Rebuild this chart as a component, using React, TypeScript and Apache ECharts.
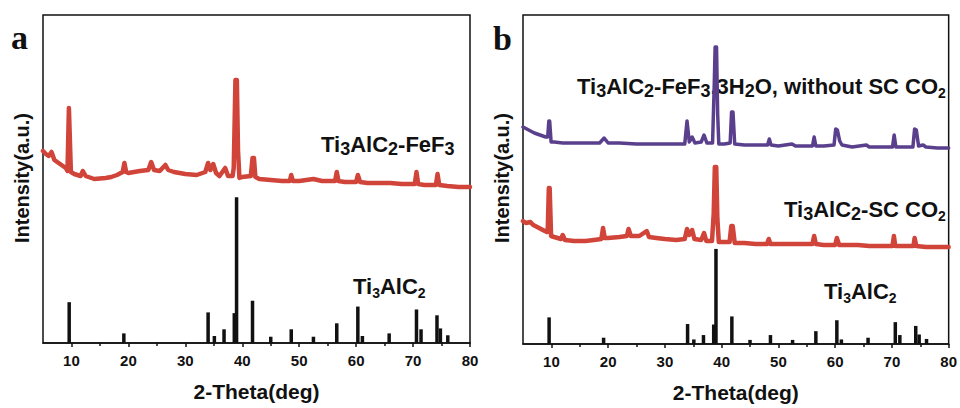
import React, { useEffect, useRef } from "react";
import * as echarts from "echarts";

// ---------- axis ticks ----------
const majorTicks = [10, 20, 30, 40, 50, 60, 70, 80];
const minorTicks = [15, 25, 35, 45, 55, 65, 75];

// ---------- Ti3AlC2 reference pattern (2θ, relative intensity %) ----------
const refTheta = [9.6, 19.2, 34.0, 35.1, 36.8, 38.6, 39.0, 41.8, 45.0, 48.6, 52.5, 56.6, 60.3, 61.1, 65.8, 70.6, 71.4, 74.2, 74.8, 76.1];
const refIntensity = [28, 6.6, 21, 4.8, 9.4, 20.5, 100, 29, 4.3, 9.4, 4.3, 13.5, 25, 4.8, 6.6, 23, 9.4, 19, 10, 5.3];

// ---------- panel a : Ti3AlC2-FeF3 (2θ, counts a.u.) ----------
const sampleFeF3: [number, number][] = [
  [5.0, 192], [5.5, 189], [6.0, 187], [6.5, 191], [7.0, 183], [8.0, 179], [9.0, 175], [9.3, 172],
  [9.55, 235], [9.65, 235], [9.9, 171], [10.5, 169], [11.6, 167], [12.0, 172], [12.5, 167], [14.0, 164],
  [16.0, 165], [17.0, 166], [18.0, 168], [19.0, 171], [19.3, 180], [19.6, 171], [20.0, 170], [22.0, 172],
  [23.5, 173], [24.0, 181], [24.5, 173], [25.5, 172], [26.5, 178], [27.0, 173], [28.0, 171], [30.0, 169],
  [32.0, 168], [33.5, 171], [34.0, 180], [34.4, 173], [34.9, 179], [35.4, 170], [36.0, 167], [37.0, 175],
  [37.5, 167], [38.3, 167], [38.5, 175], [38.7, 233], [38.8, 263], [39.05, 263], [39.25, 193], [39.5, 165],
  [40.0, 166], [41.5, 167], [41.8, 185], [42.05, 185], [42.3, 166], [43.0, 164], [45.0, 163], [47.0, 162],
  [48.35, 162], [48.6, 168], [48.9, 162], [50.0, 162], [52.5, 164], [54.0, 162], [56.3, 162], [56.6, 171],
  [56.9, 162], [58.0, 161], [60.0, 161], [60.3, 168], [60.7, 161], [62.0, 160], [64.0, 160], [66.0, 160],
  [68.0, 159], [70.3, 159], [70.6, 171], [70.9, 159], [72.0, 158], [74.0, 158], [74.3, 169], [74.6, 158],
  [76.0, 157], [78.0, 156], [80.0, 156],
];

// ---------- panel b : Ti3AlC2-FeF3.3H2O without SC CO2 ----------
const sampleHydrate: [number, number][] = [
  [5.0, 217], [6.0, 214], [7.0, 211], [8.0, 209], [9.0, 207], [9.35, 207], [9.55, 223], [9.7, 223],
  [9.95, 202], [10.5, 202], [12.0, 201], [14.0, 201], [16.0, 201], [18.5, 201], [19.3, 206], [20.0, 201],
  [22.0, 201], [25.0, 200], [28.0, 200], [30.0, 200], [32.0, 200], [33.5, 200], [33.9, 223], [34.3, 202],
  [34.8, 207], [35.3, 201], [36.4, 202], [36.9, 209], [37.4, 201], [38.4, 201], [38.7, 260], [38.85, 297],
  [39.1, 297], [39.3, 230], [39.5, 200], [40.5, 200], [41.5, 201], [41.75, 232], [42.0, 232], [42.3, 200],
  [44.0, 199], [46.0, 199], [48.1, 199], [48.4, 205], [48.7, 199], [50.0, 198], [52.4, 200], [53.0, 198],
  [54.0, 198], [56.0, 198], [56.3, 207], [56.6, 198], [58.0, 198], [59.8, 199], [60.1, 215], [60.4, 214],
  [60.8, 203], [61.2, 199], [63.0, 197], [65.5, 199], [66.0, 197], [68.0, 197], [70.1, 197], [70.4, 209],
  [70.7, 197], [72.0, 197], [73.7, 197], [74.0, 215], [74.3, 214], [74.7, 198], [75.5, 199], [76.0, 197],
  [78.0, 196], [80.0, 196],
];

// ---------- panel b : Ti3AlC2-SC CO2 ----------
const sampleSC: [number, number][] = [
  [5.0, 123], [5.5, 121], [6.3, 122], [6.8, 119], [7.5, 117], [8.5, 114], [9.2, 112], [9.35, 112],
  [9.55, 156], [9.7, 156], [9.95, 108], [10.5, 107], [11.7, 105], [12.0, 109], [12.4, 104], [14.0, 103],
  [16.0, 103], [17.5, 104], [18.8, 105], [19.1, 116], [19.4, 106], [20.0, 106], [22.0, 107], [23.3, 108],
  [23.6, 115], [24.0, 108], [25.5, 108], [26.8, 113], [27.2, 107], [28.5, 106], [30.0, 105], [32.0, 104],
  [33.5, 105], [33.9, 115], [34.3, 109], [34.8, 114], [35.2, 105], [36.4, 104], [36.9, 111], [37.3, 103],
  [38.3, 103], [38.6, 130], [38.8, 177], [39.05, 177], [39.25, 125], [39.5, 102], [40.5, 102], [41.4, 102],
  [41.7, 118], [41.95, 118], [42.3, 101], [44.0, 101], [46.0, 100], [48.0, 100], [48.3, 105], [48.6, 100],
  [50.0, 100], [52.0, 100], [54.0, 100], [56.0, 100], [56.3, 108], [56.6, 100], [58.0, 99], [60.0, 99],
  [60.3, 106], [60.7, 99], [62.0, 99], [64.0, 99], [66.0, 98], [68.0, 98], [70.1, 98], [70.35, 108],
  [70.6, 98], [72.0, 98], [73.8, 98], [74.0, 106], [74.3, 98], [76.0, 97], [78.0, 97], [80.0, 97],
];

// ---------- texts ----------
const panelLetters = ["a", "b"];
const yTitle = "Intensity(a.u.)";
const xTitle = "2-Theta(deg)";
const labelFeF3 = "{n|Ti}{b|3}{n|AlC}{b|2}{n|-FeF}{b|3}";
const labelRefA = "{n|Ti}{s|3}{n|AlC}{s|2}";
const labelHydrate = "{n|Ti}{b|3}{n|AlC}{b|2}{n|-FeF}{b|3}{n|.3H}{b|2}{n|O, without SC CO}{s|2}";
const labelSC = "{n|Ti}{b|3}{n|AlC}{b|2}{n|-SC CO}{s|2}";
const labelRefB = "{n|Ti}{s|3}{n|AlC}{s|2}";

const RED = "#D0443A";
const PURPLE = "#5A3F8C";
const INK = "#111111";
const SANS = "Liberation Sans, Arial, sans-serif";

const rich = {
  n: { fontSize: 22, fontWeight: "bold", fontFamily: SANS, fill: INK, color: INK, lineHeight: 28 },
  b: { fontSize: 18, fontWeight: "bold", fontFamily: SANS, fill: INK, color: INK, lineHeight: 18, verticalAlign: "bottom" },
  s: { fontSize: 14, fontWeight: "bold", fontFamily: SANS, fill: INK, color: INK, lineHeight: 14, verticalAlign: "bottom" },
};

function xAxes(gridIndex: number) {
  const common = { type: "value", gridIndex, min: 5, max: 80, position: "bottom", splitLine: { show: false } };
  return [
    {
      ...common,
      axisLine: { show: true, onZero: false, lineStyle: { color: INK, width: 1.5 } },
      axisTick: { show: true, inside: false, length: 4, customValues: majorTicks, lineStyle: { color: INK, width: 1.5 } },
      axisLabel: { customValues: majorTicks, margin: 10, fontSize: 15, fontWeight: "bold", color: INK, fontFamily: SANS },
      name: xTitle,
      nameLocation: "middle",
      nameGap: 38,
      nameTextStyle: { fontSize: 21, fontWeight: "bold", color: INK, fontFamily: SANS },
    },
    {
      ...common,
      axisLine: { show: false, onZero: false },
      axisTick: { show: true, inside: false, length: 3, customValues: minorTicks, lineStyle: { color: INK, width: 1.5 } },
      axisLabel: { show: false },
    },
  ];
}

export default function App() {
  const ref = useRef<HTMLDivElement>(null);
  useEffect(() => {
    if (!ref.current) return;
    const chart = echarts.init(ref.current, null, { renderer: "svg" });
    const refData = refTheta.map((t, i) => [t, refIntensity[i]]);
    chart.setOption({
      animation: false,
      backgroundColor: "#ffffff",
      grid: [
        { left: 43, top: 15, width: 427, height: 328, show: true, borderColor: INK, borderWidth: 1.5, containLabel: false },
        { left: 523, top: 15, width: 427, height: 329, show: true, borderColor: INK, borderWidth: 1.5, containLabel: false },
      ],
      xAxis: [...xAxes(0), ...xAxes(1)],
      yAxis: [
        { type: "value", gridIndex: 0, min: 0, max: 328, show: false },
        { type: "value", gridIndex: 0, min: 0, max: 225, show: false },
        { type: "value", gridIndex: 1, min: 0, max: 329, show: false },
        { type: "value", gridIndex: 1, min: 0, max: 346, show: false },
      ],
      series: [
        {
          type: "line", xAxisIndex: 0, yAxisIndex: 0, data: sampleFeF3, showSymbol: false,
          lineStyle: { color: RED, width: 4.5, join: "round", cap: "round" }, z: 3,
        },
        {
          type: "bar", xAxisIndex: 0, yAxisIndex: 1, data: refData, barWidth: 3.5,
          itemStyle: { color: INK },
        },
        {
          type: "line", xAxisIndex: 2, yAxisIndex: 2, data: sampleHydrate, showSymbol: false,
          lineStyle: { color: PURPLE, width: 3.5, join: "round", cap: "round" }, z: 3,
        },
        {
          type: "line", xAxisIndex: 2, yAxisIndex: 2, data: sampleSC, showSymbol: false,
          lineStyle: { color: RED, width: 4.5, join: "round", cap: "round" }, z: 3,
        },
        {
          type: "bar", xAxisIndex: 2, yAxisIndex: 3, data: refData, barWidth: 3.5,
          itemStyle: { color: INK },
        },
      ],
      graphic: [
        { type: "text", x: 11, y: 37, style: { text: panelLetters[0], font: "bold 34px 'Liberation Serif', serif", fill: INK, align: "left", verticalAlign: "middle" } },
        { type: "text", x: 493, y: 38, style: { text: panelLetters[1], font: "bold 34px 'Liberation Serif', serif", fill: INK, align: "left", verticalAlign: "middle" } },
        { type: "text", x: 22, y: 178, rotation: Math.PI / 2, style: { text: yTitle, font: `bold 20px ${SANS}`, fill: INK, align: "center", verticalAlign: "middle" } },
        { type: "text", x: 502, y: 178, rotation: Math.PI / 2, style: { text: yTitle, font: `bold 20px ${SANS}`, fill: INK, align: "center", verticalAlign: "middle" } },
        { type: "text", x: 321, y: 130, style: { text: labelFeF3, rich, align: "left", verticalAlign: "top" } },
        { type: "text", x: 353, y: 272, style: { text: labelRefA, rich, align: "left", verticalAlign: "top" } },
        { type: "text", x: 577, y: 72, style: { text: labelHydrate, rich, align: "left", verticalAlign: "top" } },
        { type: "text", x: 784, y: 195, style: { text: labelSC, rich, align: "left", verticalAlign: "top" } },
        { type: "text", x: 824, y: 277, style: { text: labelRefB, rich, align: "left", verticalAlign: "top" } },
      ],
    });
    return () => chart.dispose();
  }, []);
  return <div ref={ref} style={{ position: "fixed", left: 0, top: 0, width: 960, height: 408, background: "#fff" }} />;
}
